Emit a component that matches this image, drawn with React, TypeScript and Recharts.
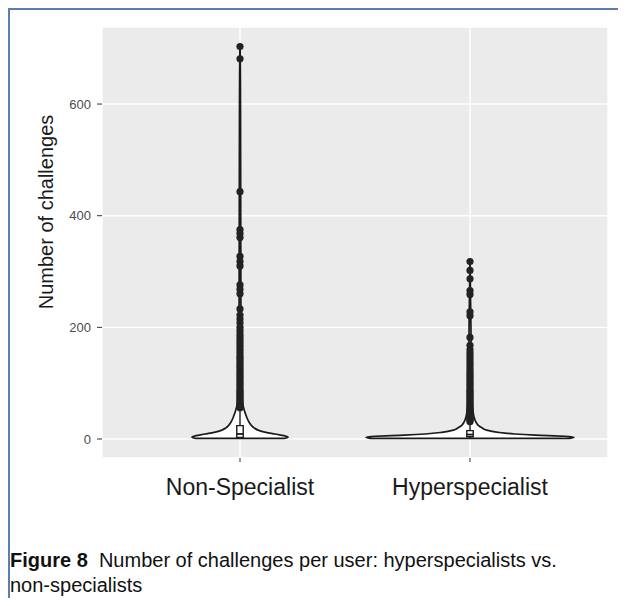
import React from 'react';
import {
  ComposedChart,
  Area,
  Scatter,
  XAxis,
  YAxis,
  CartesianGrid,
  ReferenceArea,
  ReferenceLine,
} from 'recharts';

const CATEGORIES = ['Non-Specialist', 'Hyperspecialist'];
const Y_TICKS = [0, 200, 400, 600];
const Y_MINOR = [100, 300, 500, 700];

// violin outlines: relative half-width (0..1) at each challenge count
const NS_GRID = [1, 1.3, 3, 5, 7, 9, 12, 16, 20, 25, 30, 40, 50, 60, 80, 120, 200, 318, 350, 500, 650, 703];
const NS_DENSITY = [0, 0.92, 1, 0.96, 0.85, 0.73, 0.54, 0.375, 0.29, 0.23, 0.19, 0.135, 0.094, 0.063, 0.035, 0.025, 0.02, 0.017, 0.016, 0.013, 0.008, 0];
const HS_GRID = [1, 1.3, 3, 5, 7, 9, 12, 16, 20, 25, 30, 40, 50, 60, 80, 120, 200, 318];
const HS_DENSITY = [0, 0.96, 1, 0.91, 0.63, 0.43, 0.27, 0.16, 0.115, 0.077, 0.058, 0.038, 0.029, 0.022, 0.015, 0.012, 0.009, 0];

const NS_OUTLIERS = [
  703, 681, 443, 375, 368, 361, 327, 318, 310, 276, 268, 260, 233, 222, 215, 208, 200, 194, 188, 183,
  178, 173, 168, 163, 158, 153, 148, 144, 140, 136, 132, 128, 124, 120, 116, 112, 108, 104, 100, 96,
  92, 88, 85, 82, 79, 76, 73, 70, 67, 64, 61, 58, 56,
];
const HS_OUTLIERS = [
  318, 302, 287, 266, 259, 228, 221, 182, 168, 160, 154, 149, 144, 139, 134, 129, 124, 120, 116, 112,
  108, 104, 100, 96, 92, 88, 85, 82, 79, 76, 73, 70, 67, 64, 61, 58, 55, 52, 49, 46, 43, 41, 39, 37,
  35, 33, 31,
];

// min, q1, median, q3, upper whisker
const NS_BOX = [1, 3, 9, 24, 55];
const HS_BOX = [1, 4, 8, 15, 31];

const NS_HALF = 0.209;
const HS_HALF = 0.452;
const BOX_HALF = 0.014;
const INK = '#1a1a1a';
const FONT = '"Liberation Sans", Arial, Helvetica, sans-serif';

const nsRows = NS_GRID.map((v, i) => ({ v, w: [1 - NS_DENSITY[i] * NS_HALF, 1 + NS_DENSITY[i] * NS_HALF] }));
const hsRows = HS_GRID.map((v, i) => ({ v, w: [2 - HS_DENSITY[i] * HS_HALF, 2 + HS_DENSITY[i] * HS_HALF] }));

const outlierRows = [
  ...NS_OUTLIERS.map((v) => ({ x: 1, v })),
  ...HS_OUTLIERS.map((v) => ({ x: 2, v })),
];

const Dot = (props: any) => (
  <circle cx={props.cx} cy={props.cy} r={3.6} fill="#222" />
);

const boxMarks = (center: number, box: number[], key: string) => {
  const [lo, q1, med, q3, hi] = box;
  return [
    <ReferenceLine
      key={key + 'w1'}
      segment={[{ x: center, y: q3 }, { x: center, y: hi }]}
      stroke={INK}
      strokeWidth={1.4}
    />,
    <ReferenceLine
      key={key + 'w2'}
      segment={[{ x: center, y: lo }, { x: center, y: q1 }]}
      stroke={INK}
      strokeWidth={1.4}
    />,
    <ReferenceArea
      key={key + 'b'}
      x1={center - BOX_HALF}
      x2={center + BOX_HALF}
      y1={q1}
      y2={q3}
      fill="#fff"
      fillOpacity={1}
      stroke={INK}
      strokeWidth={1.4}
    />,
    <ReferenceLine
      key={key + 'm'}
      segment={[{ x: center - BOX_HALF, y: med }, { x: center + BOX_HALF, y: med }]}
      stroke={INK}
      strokeWidth={1.8}
    />,
  ];
};

export default function App() {
  return (
    <div
      style={{
        position: 'relative',
        width: 616,
        height: 588,
        borderLeft: '2px solid #5b7db1',
        borderTop: '2px solid #5b7db1',
        overflow: 'hidden',
        background: '#fff',
      }}
    >
      <style>{'body{overflow:hidden}'}</style>
      <ComposedChart
        width={616}
        height={500}
        layout="vertical"
        data={nsRows}
        margin={{ top: 17, right: 18, bottom: 7, left: 0 }}
      >
        <CartesianGrid
          fill="#ebebeb"
          stroke="#fff"
          strokeWidth={0.7}
          vertical={false}
          horizontalCoordinatesGenerator={({ yAxis }: any) =>
            yAxis && typeof yAxis.scale === 'function' ? Y_MINOR.map((t) => yAxis.scale(t)) : []
          }
        />
        <CartesianGrid stroke="#fff" strokeWidth={1.4} />
        <XAxis
          type="number"
          dataKey="x"
          domain={[0.4, 2.6]}
          allowDataOverflow
          ticks={[1, 2]}
          tickFormatter={(t: number) => CATEGORIES[t - 1]}
          axisLine={false}
          tickLine={{ stroke: '#333' }}
          tickSize={4}
          tickMargin={17}
          height={45}
          tick={{ fill: INK, fontSize: 23, fontFamily: FONT }}
        />
        <YAxis
          type="number"
          dataKey="v"
          domain={[-34, 738]}
          allowDataOverflow
          reversed
          ticks={Y_TICKS}
          axisLine={false}
          tickLine={{ stroke: '#333' }}
          tickSize={5}
          tickMargin={6}
          width={92}
          tick={{ fill: '#4d4d4d', fontSize: 13, fontFamily: FONT }}
        />
        <Area
          type="monotone"
          dataKey="w"
          stroke={INK}
          strokeWidth={1.7}
          fill="#fff"
          fillOpacity={1}
          dot={false}
          activeDot={false}
          isAnimationActive={false}
        />
        <Area
          data={hsRows}
          type="monotone"
          dataKey="w"
          stroke={INK}
          strokeWidth={1.7}
          fill="#fff"
          fillOpacity={1}
          dot={false}
          activeDot={false}
          isAnimationActive={false}
        />
        {boxMarks(1, NS_BOX, 'ns')}
        {boxMarks(2, HS_BOX, 'hs')}
        <Scatter data={outlierRows} shape={Dot} isAnimationActive={false} />
      </ComposedChart>
      <div
        style={{
          position: 'absolute',
          left: -114,
          top: 188,
          width: 300,
          height: 28,
          lineHeight: '28px',
          textAlign: 'center',
          transform: 'rotate(-90deg)',
          fontFamily: FONT,
          fontSize: 20,
          color: INK,
          whiteSpace: 'nowrap',
        }}
      >
        Number of challenges
      </div>
      <div
        style={{
          position: 'absolute',
          left: 0,
          top: 538,
          fontFamily: FONT,
          fontSize: 20,
          lineHeight: '25px',
          color: '#111',
          whiteSpace: 'nowrap',
        }}
      >
        <b>Figure 8</b>&nbsp; Number of challenges per user: hyperspecialists vs.
        <br />
        non-specialists
      </div>
    </div>
  );
}
